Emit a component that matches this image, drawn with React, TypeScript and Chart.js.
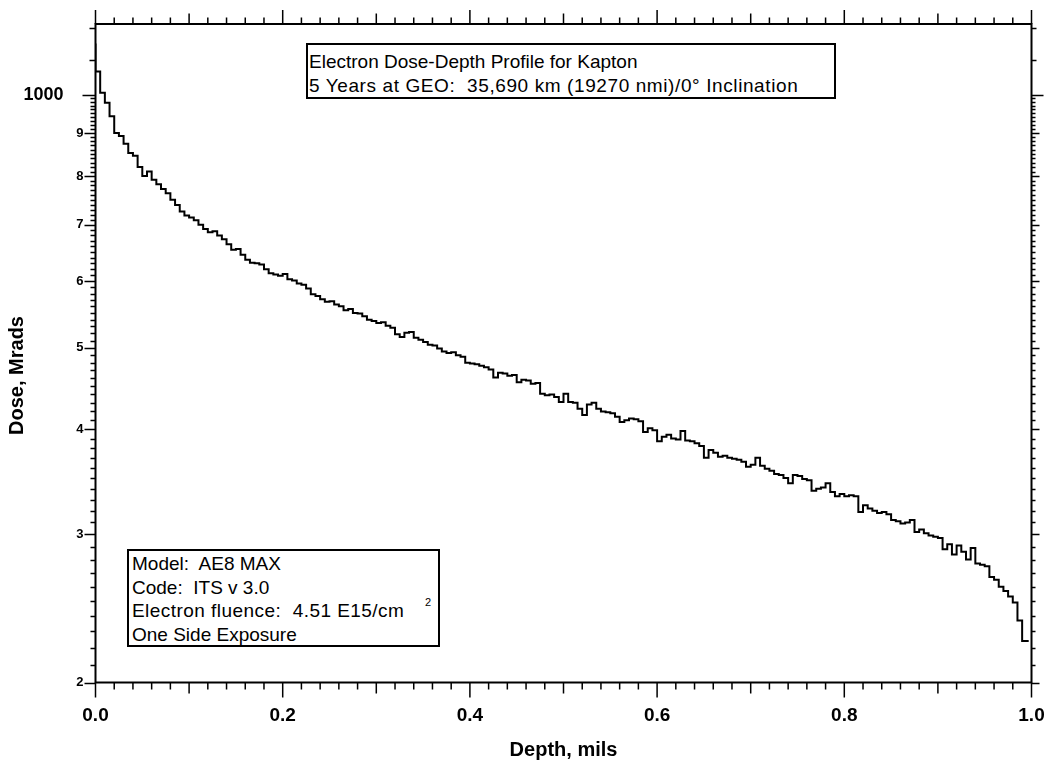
import React, { useEffect, useRef } from "react";
import { Chart, registerables } from "chart.js";

Chart.register(...registerables);

// ---- data ----
const binWidth = 0.005; // depth bin width, mils
const depthEnd = 0.997; // end of the last bin
const doseValues = [
  1150, 1065, 1005, 978, 942, 900, 893, 874, 852, 846,
  820, 800, 810, 792, 782, 772, 763, 750, 739, 726,
  718, 714, 709, 700, 692, 686, 688, 680, 673, 664,
  654, 655, 645, 636, 631, 630, 628, 620, 613, 611,
  609, 612, 603, 601, 596, 594, 588, 579, 576, 571,
  567, 568, 563, 560, 554, 556, 550, 549, 545, 540,
  538, 535, 536, 531, 528, 519, 515, 521, 522, 514,
  511, 508, 504, 503, 499, 495, 493, 494, 490, 488,
  480, 479, 478, 476, 474, 471, 461, 467, 466, 463,
  464, 455, 458, 457, 453, 454, 441, 439, 440, 437,
  431, 441, 431, 430, 423, 416, 428, 430, 423, 420,
  419, 418, 414, 408, 410, 412, 411, 409, 397, 401,
  399, 387, 392, 394, 390, 389, 398, 388, 387, 385,
  382, 370, 378, 375, 371, 372, 370, 369, 368, 366,
  361, 363, 370, 362, 359, 357, 354, 353, 350, 345,
  353, 352, 349, 348, 338, 340, 341, 345, 337, 333,
  335, 333, 334, 333, 319, 325, 322, 320, 318, 319,
  317, 312, 311, 309, 310, 312, 302, 304, 301, 299,
  298, 297, 288, 292, 284, 291, 286, 280, 289, 277,
  276, 275, 267, 265, 260, 257, 253, 249, 237, 224,
];

const xTickValues = [0, 0.2, 0.4, 0.6, 0.8, 1.0];
const yTickValues = [200, 300, 400, 500, 600, 700, 800, 900, 1000];
const yTickLabels = ["2", "3", "4", "5", "6", "7", "8", "9", "1000    "];
const xMin = 0;
const xMax = 1;
const yMin = 200;
const yMax = 1213;

const titleLines = [
  "Electron Dose-Depth Profile for Kapton",
  "5 Years at GEO:  35,690 km (19270 nmi)/0° Inclination",
];
const infoLines = [
  "Model:  AE8 MAX",
  "Code:  ITS v 3.0",
  "Electron fluence:  4.51 E15/cm",
  "One Side Exposure",
];
const infoSuperscript = "2";

const FONT = "'Liberation Sans', Arial, Helvetica, sans-serif";

const framePlugin = {
  id: "frameTicks",
  afterDraw(chart: any) {
    const { ctx, chartArea: a, scales } = chart;
    const x = scales.x;
    const y = scales.y;
    ctx.save();
    ctx.strokeStyle = "#000";
    ctx.lineWidth = 2;
    ctx.strokeRect(a.left, a.top, a.right - a.left, a.bottom - a.top);
    ctx.lineWidth = 1.5;
    ctx.beginPath();
    for (let k = 0; k <= 50; k++) {
      const px = x.getPixelForValue(k / 50);
      const lenB = k % 10 === 0 ? 15 : k % 5 === 0 ? 11 : 7;
      const lenT = k % 10 === 0 ? 14 : k % 5 === 0 ? 10.5 : 6.5;
      ctx.moveTo(px, a.bottom);
      ctx.lineTo(px, a.bottom + lenB);
      ctx.moveTo(px, a.top);
      ctx.lineTo(px, a.top - lenT);
    }
    const vals: number[] = [];
    for (let v = 200; v <= 1000; v += 10) vals.push(v);
    vals.push(1100, 1200);
    for (const v of vals) {
      const py = Math.round(y.getPixelForValue(v)) + 0.5;
      let lenL = 5;
      let lenR = 4;
      if (v === 1000) {
        lenL = 13;
        lenR = 12;
      } else if (v > 1000) {
        lenL = 6;
        lenR = 5;
      } else if (v % 100 === 0) {
        lenL = 11;
        lenR = 8;
      }
      ctx.moveTo(a.left, py);
      ctx.lineTo(a.left - lenL, py);
      ctx.moveTo(a.right, py);
      ctx.lineTo(a.right + lenR, py);
    }
    ctx.stroke();
    ctx.restore();
  },
};

export default function App() {
  const canvasRef = useRef<HTMLCanvasElement>(null);

  useEffect(() => {
    const points = doseValues.map((v, i) => ({ x: i * binWidth, y: v }));
    points.push({ x: depthEnd, y: doseValues[doseValues.length - 1] });

    const chart = new Chart(canvasRef.current as HTMLCanvasElement, {
      type: "line",
      data: {
        datasets: [
          {
            data: points,
            stepped: "after",
            borderColor: "#000",
            borderWidth: 2,
            pointRadius: 0,
            fill: false,
          },
        ],
      },
      options: {
        responsive: false,
        animation: false,
        layout: { padding: { left: 0, top: 24, right: 12.5, bottom: 0 } },
        plugins: {
          legend: { display: false },
          tooltip: { enabled: false },
        },
        scales: {
          x: {
            type: "linear",
            min: xMin,
            max: xMax,
            grid: { display: false, drawTicks: false },
            border: { display: false },
            afterBuildTicks: (s: any) => {
              s.ticks = xTickValues.map((v) => ({ value: v }));
            },
            afterFit: (s: any) => {
              s.height = 84.5;
              s.paddingLeft = 0;
              s.paddingRight = 0;
            },
            ticks: {
              callback: (v: any) => Number(v).toFixed(1),
              font: { family: FONT, size: 19, weight: "bold" },
              color: "#000",
              padding: 22,
              maxRotation: 0,
              autoSkip: false,
            },
            title: {
              display: true,
              text: "Depth, mils",
              color: "#000",
              font: { family: FONT, size: 20, weight: "bold" },
              padding: { top: 0, bottom: 5 },
            },
          },
          y: {
            type: "logarithmic",
            min: yMin,
            max: yMax,
            grid: { display: false, drawTicks: false },
            border: { display: false },
            afterBuildTicks: (s: any) => {
              s.ticks = yTickValues.map((v) => ({ value: v }));
            },
            afterFit: (s: any) => {
              s.width = 95.5;
              s.paddingTop = 0;
              s.paddingBottom = 0;
            },
            ticks: {
              callback: (v: any) => {
                const i = yTickValues.indexOf(Number(v));
                return i >= 0 ? yTickLabels[i] : "";
              },
              font: (c: any) =>
                c.tick && c.tick.value === 1000
                  ? { family: FONT, size: 18, weight: "bold" }
                  : { family: FONT, size: 13, weight: "bold" },
              color: "#000",
              padding: 12,
              autoSkip: false,
            },
            title: {
              display: true,
              text: "Dose, Mrads        ",
              color: "#000",
              font: { family: FONT, size: 20, weight: "bold" },
              padding: { top: 5, bottom: 0 },
            },
          },
        },
      },
      plugins: [framePlugin],
    } as any);

    return () => chart.destroy();
  }, []);

  const boxText: React.CSSProperties = {
    position: "absolute",
    boxSizing: "border-box",
    border: "2px solid #000",
    background: "#fff",
    fontFamily: FONT,
    fontSize: 19,
    color: "#000",
    whiteSpace: "pre",
  };

  return (
    <div
      style={{
        position: "absolute",
        left: 0,
        top: 0,
        width: 1044,
        height: 767,
        background: "#fff",
        overflow: "hidden",
      }}
    >
      <canvas
        ref={canvasRef}
        width={1044}
        height={767}
        style={{ display: "block", width: 1044, height: 767 }}
      />
      <div
        style={{
          ...boxText,
          left: 306,
          top: 43,
          width: 530,
          height: 56,
          lineHeight: "24px",
          paddingTop: 5,
          paddingLeft: 1,
        }}
      >
        {titleLines.map((l, i) => (
          <div key={l} style={{ letterSpacing: i === 1 ? "0.6px" : "0px" }}>
            {l}
          </div>
        ))}
      </div>
      <div
        style={{
          ...boxText,
          left: 127,
          top: 549,
          width: 313,
          height: 98,
          lineHeight: "23.5px",
          paddingTop: 1,
          paddingLeft: 3,
        }}
      >
        {infoLines.map((l, i) => (
          <div key={l} style={{ letterSpacing: i === 2 ? "0.45px" : "0px" }}>
            {l}
          </div>
        ))}
        <span
          style={{
            position: "absolute",
            left: 296,
            top: 46,
            fontSize: 11,
            lineHeight: "11px",
          }}
        >
          {infoSuperscript}
        </span>
      </div>
    </div>
  );
}
